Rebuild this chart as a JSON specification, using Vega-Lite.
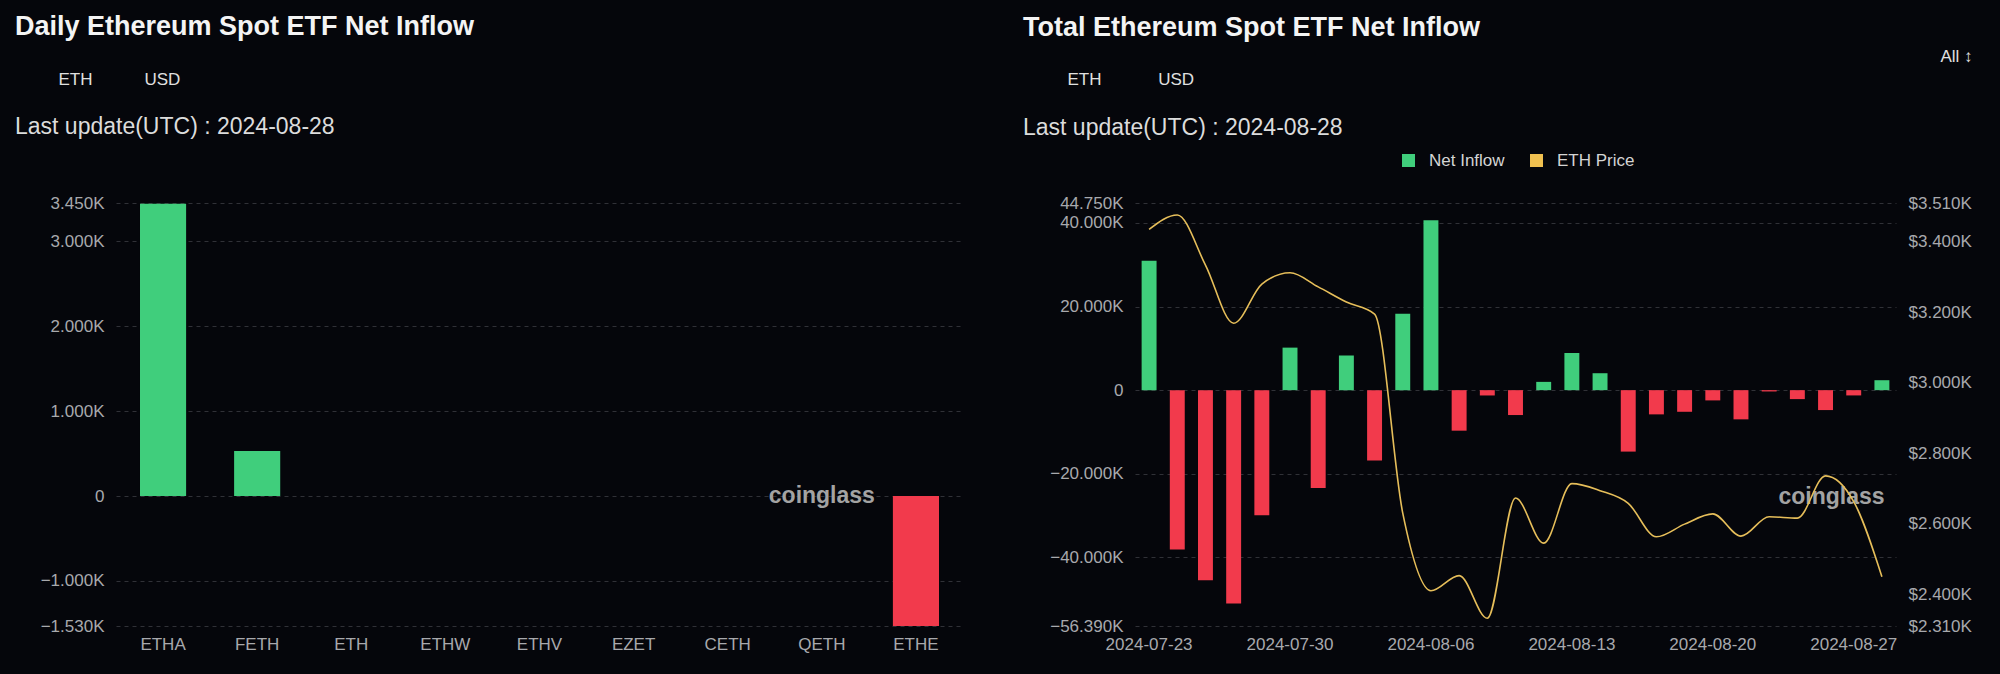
{
  "$schema": "https://vega.github.io/schema/vega-lite/v6.json",
  "background": "#05060b",
  "autosize": {"type": "none"},
  "padding": {"left": 116, "top": 203, "right": 1884, "bottom": 471},
  "bounds": "flush",
  "spacing": 172,
  "config": {
    "font": "Liberation Sans",
    "view": {"stroke": null},
    "axis": {
      "domain": false, "ticks": false, "tickSize": 0,
      "labelFontSize": 17, "labelColor": "#a8a9ad", "labelFont": "Liberation Sans",
      "gridColor": "#303137", "gridDash": [4, 4], "gridWidth": 1,
      "labelPadding": 12, "titleColor": "#e0e0e0", "titleFont": "Liberation Sans"
    },
    "title": {"font": "Liberation Sans", "subtitleFont": "Liberation Sans"},
    "legend": {"labelFont": "Liberation Sans"}
  },
  "hconcat": [
    {
      "width": 847,
      "height": 423,
      "title": {
        "text": "Daily Ethereum Spot ETF Net Inflow",
        "subtitle": "Last update(UTC) : 2024-08-28",
        "anchor": "start", "frame": "group", "dx": -101,
        "fontSize": 27, "fontWeight": "bold", "color": "#f4f4f4",
        "subtitleFontSize": 23, "subtitleColor": "#dcdcdc", "subtitlePadding": 75,
        "offset": -70
      },
      "data": {"values": [
        {"fund": "ETHA", "flow": 3440},
        {"fund": "FETH", "flow": 530},
        {"fund": "ETH", "flow": 0},
        {"fund": "ETHW", "flow": 0},
        {"fund": "ETHV", "flow": 0},
        {"fund": "EZET", "flow": 0},
        {"fund": "CETH", "flow": 0},
        {"fund": "QETH", "flow": 0},
        {"fund": "ETHE", "flow": -1530}
      ]},
      "layer": [
        {
          "mark": {"type": "bar"},
          "encoding": {
            "x": {"field": "fund", "type": "nominal", "sort": null,
              "scale": {"paddingInner": 0.51, "paddingOuter": 0.255},
              "axis": {"title": null, "labelAngle": 0, "labelPadding": 10, "grid": false}},
            "y": {"field": "flow", "type": "quantitative",
              "scale": {"domain": [-1530, 3450], "nice": false, "zero": false},
              "axis": {
                "values": [-1530, -1000, 0, 1000, 2000, 3000, 3450],
                "labelExpr": "datum.value == 0 ? '0' : format(datum.value/1000, '.3f') + 'K'",
                "title": "ETH\u00a0\u00a0\u00a0\u00a0\u00a0\u00a0\u00a0\u00a0\u00a0\u00a0\u00a0USD",
                "titleAngle": 0, "titleAlign": "left", "titleBaseline": "middle",
                "titleX": -58, "titleY": -124, "titleFontSize": 17, "titleFontWeight": "normal"
              }},
            "color": {"condition": {"test": "datum.flow < 0", "value": "#f23a4c"}, "value": "#40ce7c"}
          }
        },
        {
          "data": {"values": [{"w": "coinglass"}]},
          "mark": {"type": "text", "fontSize": 23, "fontWeight": "bold", "color": "#a3a3a3", "baseline": "middle", "align": "center"},
          "encoding": {
            "x": {"datum": "QETH", "type": "nominal"},
            "y": {"datum": 0, "type": "quantitative"},
            "text": {"field": "w"}
          }
        }
      ]
    },
    {
      "width": 761,
      "height": 423,
      "title": {
        "text": "Total Ethereum Spot ETF Net Inflow",
        "subtitle": "Last update(UTC) : 2024-08-28",
        "anchor": "start", "frame": "group", "dx": -112,
        "fontSize": 27, "fontWeight": "bold", "color": "#f4f4f4",
        "subtitleFontSize": 23, "subtitleColor": "#dcdcdc", "subtitlePadding": 75,
        "offset": -94
      },
      "data": {"values": [
        {"date": "2024-07-23", "flow": 30950, "price": 3435},
        {"date": "2024-07-24", "flow": -38100, "price": 3476},
        {"date": "2024-07-25", "flow": -45480, "price": 3334},
        {"date": "2024-07-26", "flow": -51020, "price": 3169},
        {"date": "2024-07-29", "flow": -29930, "price": 3280},
        {"date": "2024-07-30", "flow": 10170, "price": 3312},
        {"date": "2024-07-31", "flow": -23400, "price": 3272},
        {"date": "2024-08-01", "flow": 8260, "price": 3229},
        {"date": "2024-08-02", "flow": -16830, "price": 3195},
        {"date": "2024-08-05", "flow": 18260, "price": 2630},
        {"date": "2024-08-06", "flow": 40640, "price": 2410},
        {"date": "2024-08-07", "flow": -9690, "price": 2453},
        {"date": "2024-08-08", "flow": -1270, "price": 2332},
        {"date": "2024-08-09", "flow": -5950, "price": 2673},
        {"date": "2024-08-12", "flow": 1980, "price": 2545},
        {"date": "2024-08-13", "flow": 8890, "price": 2714},
        {"date": "2024-08-14", "flow": 4050, "price": 2694},
        {"date": "2024-08-15", "flow": -14690, "price": 2658},
        {"date": "2024-08-16", "flow": -5790, "price": 2563},
        {"date": "2024-08-19", "flow": -5170, "price": 2599},
        {"date": "2024-08-20", "flow": -2450, "price": 2628},
        {"date": "2024-08-21", "flow": -6980, "price": 2565},
        {"date": "2024-08-22", "flow": -310, "price": 2620},
        {"date": "2024-08-23", "flow": -2140, "price": 2616},
        {"date": "2024-08-26", "flow": -4760, "price": 2736},
        {"date": "2024-08-27", "flow": -1260, "price": 2663},
        {"date": "2024-08-28", "flow": 2380, "price": 2450}
      ]},
      "layer": [
        {
          "layer": [
            {
              "mark": {"type": "bar"},
              "encoding": {
                "x": {"field": "date", "type": "ordinal", "sort": null,
                  "scale": {"paddingInner": 0.47, "paddingOuter": 0.235},
                  "axis": {"title": null, "labelAngle": 0, "labelPadding": 10, "grid": false,
                    "values": ["2024-07-23", "2024-07-30", "2024-08-06", "2024-08-13", "2024-08-20", "2024-08-27"]}},
                "y": {"field": "flow", "type": "quantitative",
                  "scale": {"domain": [-56390, 44750], "nice": false, "zero": false},
                  "axis": {
                    "orient": "left",
                    "values": [-56390, -40000, -20000, 0, 20000, 40000, 44750],
                    "labelExpr": "datum.value == 0 ? '0' : format(datum.value/1000, '.3f') + 'K'",
                    "title": "ETH\u00a0\u00a0\u00a0\u00a0\u00a0\u00a0\u00a0\u00a0\u00a0\u00a0\u00a0\u00a0USD",
                    "titleAngle": 0, "titleAlign": "left", "titleBaseline": "middle",
                    "titleX": -68, "titleY": -124, "titleFontSize": 17, "titleFontWeight": "normal"
                  }},
                "fill": {"condition": {"test": "datum.flow < 0", "value": "#f23a4c"},
                  "datum": "Net Inflow", "type": "nominal",
                  "scale": {"domain": ["Net Inflow"], "range": ["#40ce7c"]},
                  "legend": {"title": null, "orient": "none", "legendX": 265, "legendY": -51,
                    "symbolType": "square", "symbolSize": 169, "labelFontSize": 17,
                    "labelColor": "#d4d4d4", "labelOffset": 12, "padding": 0}}
              }
            },
            {
              "data": {"values": [{"w": "coinglass"}]},
              "mark": {"type": "text", "fontSize": 23, "fontWeight": "bold", "color": "#a3a3a3", "baseline": "middle", "align": "center", "dx": 6},
              "encoding": {
                "x": {"datum": "2024-08-26", "type": "ordinal"},
                "y": {"datum": -25500, "type": "quantitative"},
                "text": {"field": "w"}
              }
            }
          ]
        },
        {
          "mark": {"type": "line", "interpolate": "monotone", "strokeWidth": 1.6},
          "encoding": {
            "x": {"field": "date", "type": "ordinal", "sort": null},
            "y": {"field": "price", "type": "quantitative",
              "scale": {"domain": [2310, 3510], "nice": false, "zero": false},
              "axis": {
                "orient": "right",
                "values": [2310, 2400, 2600, 2800, 3000, 3200, 3400, 3510],
                "labelExpr": "'$' + format(datum.value/1000, '.3f') + 'K'",
                "title": "All \u2195",
                "titleAngle": 0, "titleAlign": "left", "titleBaseline": "middle",
                "titleX": 44, "titleY": -147, "titleFontSize": 17, "titleFontWeight": "normal"
              }},
            "stroke": {"datum": "ETH Price", "type": "nominal",
              "scale": {"domain": ["ETH Price"], "range": ["#e6be5a"]},
              "legend": {"title": null, "orient": "none", "legendX": 393, "legendY": -51,
                "symbolType": "square", "symbolSize": 169, "symbolFillColor": "#f0c050",
                "symbolStrokeWidth": 0, "labelFontSize": 17,
                "labelColor": "#d4d4d4", "labelOffset": 12, "padding": 0,
                "encode": {"symbols": {"update": {"fill": {"value": "#f0c050"}, "strokeWidth": {"value": 0}}}}}}
          }
        }
      ],
      "resolve": {"scale": {"y": "independent", "fill": "independent", "stroke": "independent"}}
    }
  ]
}
